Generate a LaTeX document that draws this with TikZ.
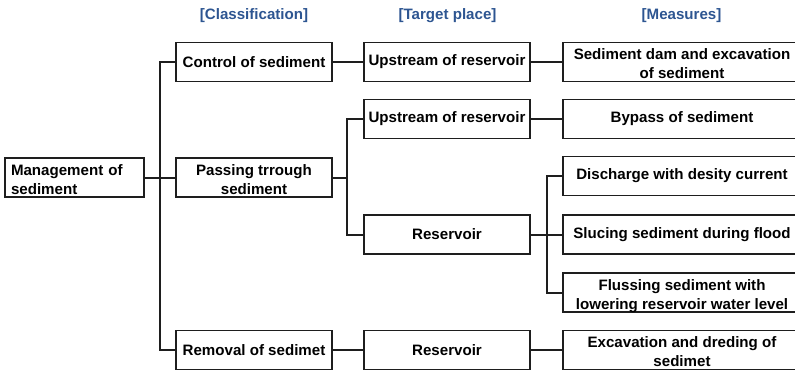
\documentclass[tikz,border=0pt]{standalone}
\usepackage{fontspec}
\setmainfont{Liberation Sans}
\definecolor{headblue}{RGB}{45,85,145}
\definecolor{linegray}{RGB}{30,30,30}
\newcommand{\twolines}[3][c]{\raisebox{-7pt}[10pt][10pt]{\begin{tabular}{@{}#1@{}}#2\\#3\end{tabular}}}
\begin{document}
\begin{tikzpicture}[x=1pt,y=-1pt,
  box/.style={draw=linegray, line width=1.9pt, minimum height=39pt, inner sep=0pt,
    align=center, font=\fontsize{15.1}{19}\selectfont\bfseries},
  colA/.style={box, minimum width=156pt},
  colB/.style={box, minimum width=166pt},
  colC/.style={box, minimum width=238pt},
  head/.style={text=headblue, font=\fontsize{15.1}{18}\selectfont\bfseries, inner sep=0pt},
  conn/.style={draw=linegray, line width=2pt}]
\useasboundingbox (0,0) rectangle (795,370);
% headers
\node[head] (h1) at (254,16) {[Classification]};
\node[head] (h2) at (447.5,16) {[Target place]};
\node[head] (h3) at (681.5,16) {[Measures]};
% root
\node[box, minimum width=139pt, text width=127pt, align=left] (mgmt) at (74.5,177.5) {\twolines[l]{Management of}{sediment}};
% classification
\node[colA] (ctrl) at (254,62) {Control of sediment};
\node[colA] (pass) at (254,177.5) {\twolines{Passing trrough}{sediment}};
\node[colA] (remv) at (254,350) {Removal of sedimet};
% target place
\node[colB] (up1) at (447,62) {Upstream of reservoir};
\node[colB] (up2) at (447,119) {Upstream of reservoir};
\node[colB] (res1) at (447,234.5) {Reservoir};
\node[colB] (res2) at (447,350) {Reservoir};
% measures
\node[colC] (m1) at (682,62) {\twolines{Sediment dam and excavation}{of sediment}};
\node[colC] (m2) at (682,119) {Bypass of sediment};
\node[colC] (m3) at (682,176) {Discharge with desity current};
\node[colC] (m4) at (682,234.5) {Slucing sediment during flood};
\node[colC] (m5) at (682,292.5) {\twolines{Flussing sediment with}{lowering reservoir water level}};
\node[colC] (m6) at (682,350) {\twolines{Excavation and dreding of}{sedimet}};
% junctions
\coordinate (j1) at (160,177.5);
\coordinate (j2) at (347,177.5);
\coordinate (j3) at (547,234.5);
% connectors
\draw[conn] (mgmt.east) -- (pass.west);
\draw[conn] (ctrl.west) -| (j1) |- (remv.west);
\draw[conn] (ctrl.east) -- (up1.west);
\draw[conn] (pass.east) -- (j2);
\draw[conn] (up2.west) -| (j2) |- (res1.west);
\draw[conn] (remv.east) -- (res2.west);
\draw[conn] (up1.east) -- (m1.west);
\draw[conn] (up2.east) -- (m2.west);
\draw[conn] (res1.east) -- (m4.west);
\draw[conn] (m3.west) -| (j3) |- (m5.west);
\draw[conn] (res2.east) -- (m6.west);
\end{tikzpicture}
\end{document}
